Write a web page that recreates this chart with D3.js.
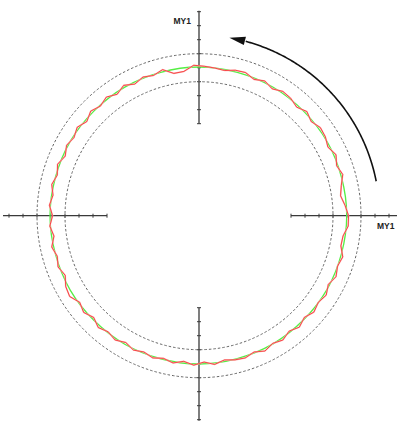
<!DOCTYPE html>
<html><head><meta charset="utf-8">
<script src="https://cdn.jsdelivr.net/npm/d3@7"></script>
<style>html,body{margin:0;padding:0;background:#fff;}svg{display:block;}</style>
</head><body>
<svg id="c" width="400" height="436"></svg>
<script>
// Measured deviations (units; 1 unit = one tick), red every 4 deg counter-clockwise from east
const redDev = [0.11,-0.11,-0.36,-0.18,0.11,-0.11,0.14,-0.14,0.07,0.14,
  -0.11,0.14,-0.14,0.07,0.14,-0.11,0.14,-0.07,0.18,0.14,
  -0.04,0.04,0.11,0.18,-0.21,-0.25,0.18,-0.04,0.11,-0.11,
  0.18,-0.11,0.18,-0.04,0.18,-0.11,0.18,-0.04,0.14,-0.11,
  0.18,-0.04,0.18,-0.04,0.14,-0.11,0.11,-0.11,0.18,-0.04,
  0.14,-0.11,0.21,0.32,-0.04,0.18,-0.11,0.18,-0.04,0.14,
  -0.11,0.11,-0.07,0.11,-0.07,0.11,-0.11,0.11,-0.11,0.11,
  -0.11,0.04,0.11,-0.07,0.18,-0.04,0.14,-0.11,0.14,-0.11,
  0.14,-0.04,0.14,-0.11,0.14,-0.04,0.11,-0.21,-0.18,0.11];
// smoothed (green) every 30 deg
const greenDev = [-0.02,0.00,0.02,0.05,0.03,0.05,0.07,0.05,0.03,0.02,0.00,-0.02];
const tolerance = [-1, 1];           // dashed circles
const vTicks = [-4,-3,-2,-1,0,1,2,3,4];
const hTicks = [-4,-3,-2,-1,0,1,2,3];
const axisLabel = "MY1";

const svg = d3.select("#c");
const cx = 199, cy = 215.7;
const g = svg.append("g").attr("transform", `translate(${cx},${cy})`);
const r = d3.scaleLinear().domain([-4, 4]).range([92, 204]);
const toD3 = deg => Math.PI/2 - deg*Math.PI/180;

// axes
const axisCol = "#3a3a3a";
function axisSeg(dx, dy, ticks, rEnd) {
  g.append("line").attr("x1", dx*r(-4)).attr("y1", dy*r(-4))
    .attr("x2", dx*rEnd).attr("y2", dy*rEnd)
    .attr("stroke", axisCol).attr("stroke-width", 1.3);
  ticks.forEach(t => {
    const p = r(t);
    g.append("line")
      .attr("x1", dx*p - dy*2).attr("y1", dy*p - dx*2)
      .attr("x2", dx*p + dy*2).attr("y2", dy*p + dx*2)
      .attr("stroke", axisCol).attr("stroke-width", 1);
  });
}
axisSeg(0, -1, vTicks, r(4)+1);
axisSeg(0, 1, vTicks, r(4)+1);
axisSeg(1, 0, hTicks, r(3)+8);
axisSeg(-1, 0, hTicks, r(3)+6);

// dashed circles
tolerance.forEach(t => {
  g.append("circle").attr("r", r(t)).attr("fill", "none")
    .attr("stroke", "#666").attr("stroke-width", 1).attr("stroke-dasharray", "2.5,2");
});

// green smoothed profile
const gAng = greenDev.map((d,i) => i*360/greenDev.length);
const greenLine = d3.lineRadial().curve(d3.curveCardinalClosed)
  .angle((d,i) => toD3(gAng[i])).radius(d => r(d));
g.append("path").attr("d", greenLine(greenDev)).attr("fill","none")
  .attr("stroke", "#55ee44").attr("stroke-width", 1.3);

// red raw profile
const rAng = redDev.map((d,i) => i*360/redDev.length);
const redLine = d3.lineRadial().curve(d3.curveLinearClosed)
  .angle((d,i) => toD3(rAng[i])).radius(d => r(d));
g.append("path").attr("d", redLine(redDev)).attr("fill","none")
  .attr("stroke", "#ffb4b4").attr("stroke-width", 1.6);
g.append("path").attr("d", redLine(redDev)).attr("fill","none")
  .attr("stroke", "#f01818").attr("stroke-width", 0.7);

// rotation arrow
const arrowR = 180.5, a0 = 11, a1 = 75.3, aTip = 80.3;
g.append("path").attr("d", d3.lineRadial().curve(d3.curveLinear)
    .angle(d => toD3(d)).radius(arrowR)(d3.range(a0, a1+0.01, 0.5)))
  .attr("fill","none").attr("stroke","#111").attr("stroke-width",1.6);
const pt = (deg, rr) => [rr*Math.cos(deg*Math.PI/180), -rr*Math.sin(deg*Math.PI/180)];
const tip = pt(aTip, arrowR), bo = pt(a1, arrowR+4.5), bi = pt(a1, arrowR-4);
g.append("path").attr("d", `M${tip}L${bo}L${bi}Z`).attr("fill","#111");

// labels
svg.append("text").attr("x", 191).attr("y", 24).attr("text-anchor","end")
  .attr("font-family","Liberation Sans, Arial, sans-serif").attr("font-weight","bold")
  .attr("font-size", 8.5).attr("fill","#222").text(axisLabel);
svg.append("text").attr("x", 377).attr("y", 228.5)
  .attr("font-family","Liberation Sans, Arial, sans-serif").attr("font-weight","bold")
  .attr("font-size", 8.5).attr("fill","#222").text(axisLabel);
</script>
</body></html>
